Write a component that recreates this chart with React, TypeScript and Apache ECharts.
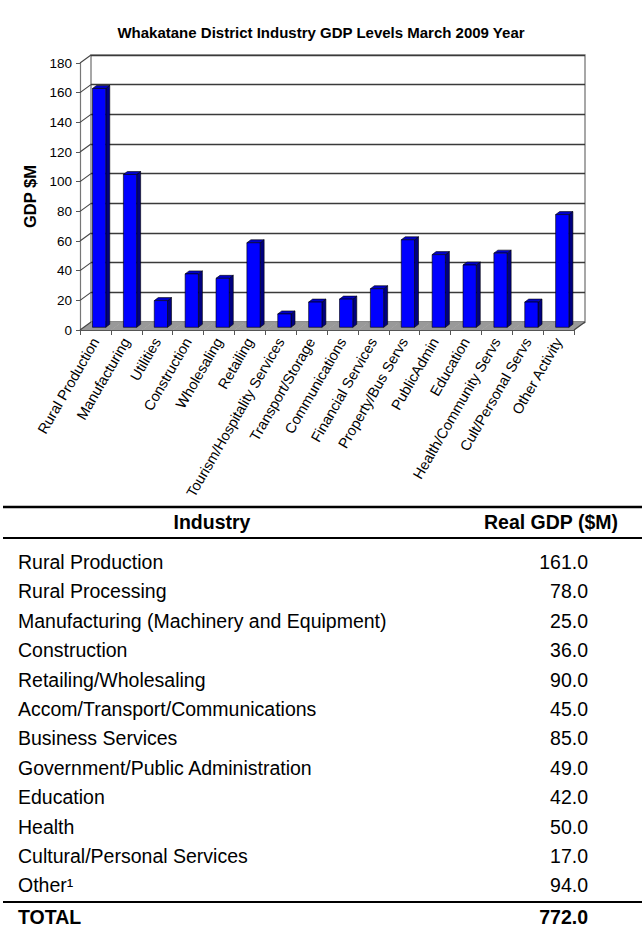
import React, { useEffect, useRef } from "react";
import * as echarts from "echarts";

const chartTitle = "Whakatane District Industry GDP Levels March 2009 Year";
const yAxisName = "GDP $M";
const categories = [
  "Rural Production",
  "Manufacturing",
  "Utilities",
  "Construction",
  "Wholesaling",
  "Retailing",
  "Tourism/Hospitality Services",
  "Transport/Storage",
  "Communications",
  "Financial Services",
  "Property/Bus Servs",
  "PublicAdmin",
  "Education",
  "Health/Community Servs",
  "Cult/Personal Servs",
  "Other Activity",
];
const gdpValues = [161, 103, 18, 36, 33, 57, 9, 17, 19, 26, 59, 49, 42, 50, 17, 76];
const yTicks = [0, 20, 40, 60, 80, 100, 120, 140, 160, 180];

const tableHeaders = ["Industry", "Real GDP ($M)"];
const tableIndustries = [
  "Rural Production",
  "Rural Processing",
  "Manufacturing (Machinery and Equipment)",
  "Construction",
  "Retailing/Wholesaling",
  "Accom/Transport/Communications",
  "Business Services",
  "Government/Public Administration",
  "Education",
  "Health",
  "Cultural/Personal Services",
  "Other\u00B9",
];
const tableValues = [161.0, 78.0, 25.0, 36.0, 90.0, 45.0, 85.0, 49.0, 42.0, 50.0, 17.0, 94.0];
const totalLabel = "TOTAL";
const totalValue = 772.0;

const FONT = "'Liberation Sans', Arial, sans-serif";
const DX = 11;
const DY = -8;
const Y_MIN = yTicks[0];
const Y_MAX = yTicks[yTicks.length - 1];
const Y_STEP = yTicks[1] - yTicks[0];

export default function App() {
  const ref = useRef<HTMLDivElement>(null);

  useEffect(() => {
    document.body.style.margin = "0";
    if (!ref.current) return;
    const chart = echarts.init(ref.current, undefined, { renderer: "svg" });

    const barData = categories.map((c, i) => [i, gdpValues[i]]);
    const tickData = yTicks.map((v) => [0, v]);

    const rowTop = 562;
    const rowStep = 29.4;
    const tableFont = 19.5;
    const graphics: any[] = [];
    graphics.push({ type: "line", shape: { x1: 3, y1: 507, x2: 642, y2: 507 }, style: { stroke: "#000", lineWidth: 2.5 } });
    graphics.push({ type: "line", shape: { x1: 3, y1: 538, x2: 642, y2: 538 }, style: { stroke: "#000", lineWidth: 2 } });
    graphics.push({ type: "line", shape: { x1: 3, y1: 902, x2: 642, y2: 902 }, style: { stroke: "#000", lineWidth: 2 } });
    graphics.push({
      type: "text", x: 212, y: 522,
      style: { text: tableHeaders[0], font: `bold ${tableFont}px ${FONT}`, fill: "#000", align: "center", verticalAlign: "middle" },
    });
    graphics.push({
      type: "text", x: 551, y: 522,
      style: { text: tableHeaders[1], font: `bold ${tableFont}px ${FONT}`, fill: "#000", align: "center", verticalAlign: "middle" },
    });
    tableIndustries.forEach((name, i) => {
      const y = rowTop + i * rowStep;
      graphics.push({
        type: "text", x: 18, y,
        style: { text: name, font: `${tableFont}px ${FONT}`, fill: "#000", align: "left", verticalAlign: "middle" },
      });
      graphics.push({
        type: "text", x: 588, y,
        style: { text: tableValues[i].toFixed(1), font: `${tableFont}px ${FONT}`, fill: "#000", align: "right", verticalAlign: "middle" },
      });
    });
    graphics.push({
      type: "text", x: 18, y: 917,
      style: { text: totalLabel, font: `bold ${tableFont}px ${FONT}`, fill: "#000", align: "left", verticalAlign: "middle" },
    });
    graphics.push({
      type: "text", x: 588, y: 917,
      style: { text: totalValue.toFixed(1), font: `bold ${tableFont}px ${FONT}`, fill: "#000", align: "right", verticalAlign: "middle" },
    });

    chart.setOption({
      animation: false,
      backgroundColor: "#fff",
      title: {
        text: chartTitle,
        left: "center",
        top: 20,
        textStyle: { fontFamily: FONT, fontSize: 15, fontWeight: "bold", color: "#000" },
      },
      grid: [
        { left: 80, top: 63, width: 494, height: 267 },
        { left: 80 + DX, top: 63 + DY, width: 494, height: 267, show: true, borderColor: "#8a8a8a", borderWidth: 1.5, backgroundColor: "transparent", z: 0 },
      ],
      xAxis: [
        {
          gridIndex: 0,
          type: "category",
          data: categories,
          axisLine: { lineStyle: { color: "#555", width: 1.2 } },
          axisTick: { show: true, length: 5, lineStyle: { color: "#555" } },
          axisLabel: { interval: 0, rotate: 60, fontSize: 14.5, fontFamily: FONT, color: "#000", margin: 9 },
          z: 5,
        },
        { gridIndex: 1, type: "category", data: categories, show: false },
      ],
      yAxis: [
        {
          gridIndex: 0,
          type: "value",
          min: Y_MIN,
          max: Y_MAX,
          interval: Y_STEP,
          name: yAxisName,
          nameLocation: "middle",
          nameGap: 36,
          nameTextStyle: { fontFamily: FONT, fontSize: 16.5, fontWeight: "bold", color: "#000" },
          axisLine: { show: true, lineStyle: { color: "#777", width: 1.2 } },
          axisTick: { show: true, length: 4, lineStyle: { color: "#555" } },
          axisLabel: { fontSize: 13.5, fontFamily: FONT, color: "#000", margin: 8 },
          splitLine: { show: false },
        },
        {
          gridIndex: 1,
          type: "value",
          min: Y_MIN,
          max: Y_MAX,
          interval: Y_STEP,
          axisLine: { show: false },
          axisTick: { show: false },
          axisLabel: { show: false },
          splitLine: { show: true, lineStyle: { color: "#3a3a3a", width: 1.3 } },
        },
      ],
      series: [
        {
          type: "custom",
          name: "floor",
          xAxisIndex: 0,
          yAxisIndex: 0,
          z: 1,
          data: barData,
          renderItem: (params: any, api: any) => {
            const i = api.value(0);
            const base = api.coord([i, 0]);
            const band = api.size([1, 0])[0];
            const L = base[0] - band / 2;
            const R = base[0] + band / 2;
            const y = base[1];
            const children: any[] = [
              {
                type: "polygon",
                shape: { points: [[L, y], [R + 0.5, y], [R + 0.5 + DX, y + DY], [L + DX, y + DY]] },
                style: { fill: "#999999" },
              },
            ];
            if (i === categories.length - 1) {
              children.push({
                type: "line",
                shape: { x1: R, y1: y, x2: R + DX, y2: y + DY },
                style: { stroke: "#444", lineWidth: 1.2 },
              });
            }
            return { type: "group", children };
          },
        },
        {
          type: "custom",
          name: "wallTicks",
          xAxisIndex: 0,
          yAxisIndex: 0,
          z: 2,
          data: tickData,
          renderItem: (params: any, api: any) => {
            const p = api.coord([0, api.value(1)]);
            const band = api.size([1, 0])[0];
            const L = p[0] - band / 2;
            return {
              type: "line",
              shape: { x1: L, y1: p[1], x2: L + DX, y2: p[1] + DY },
              style: { stroke: "#444", lineWidth: 1.1 },
            };
          },
        },
        {
          type: "custom",
          name: "GDP",
          xAxisIndex: 0,
          yAxisIndex: 0,
          z: 3,
          data: barData,
          renderItem: (params: any, api: any) => {
            const i = api.value(0);
            const v = api.value(1);
            const base = api.coord([i, 0]);
            const top = api.coord([i, v]);
            const band = api.size([1, 0])[0];
            const w = band * 0.43;
            const cx = base[0] + band * 0.12;
            const x0 = cx - w / 2;
            const x1 = cx + w / 2;
            const yb = base[1] - 2.7;
            const yt = top[1] - 2.7;
            const dx = 4;
            const dy = -3;
            return {
              type: "group",
              children: [
                {
                  type: "polygon",
                  shape: { points: [[x1, yb], [x1 + dx, yb + dy], [x1 + dx, yt + dy], [x1, yt]] },
                  style: { fill: "#000080", stroke: "#000", lineWidth: 0.6 },
                },
                {
                  type: "polygon",
                  shape: { points: [[x0, yt], [x1, yt], [x1 + dx, yt + dy], [x0 + dx, yt + dy]] },
                  style: { fill: "#0000C8", stroke: "#000", lineWidth: 0.6 },
                },
                {
                  type: "rect",
                  shape: { x: x0, y: yt, width: w, height: yb - yt },
                  style: { fill: "#0000FF", stroke: "#000", lineWidth: 0.6 },
                },
              ],
            };
          },
        },
      ],
      graphic: graphics,
    });

    return () => chart.dispose();
  }, []);

  return <div ref={ref} style={{ position: "absolute", left: 0, top: 0, width: 642, height: 929 }} />;
}
